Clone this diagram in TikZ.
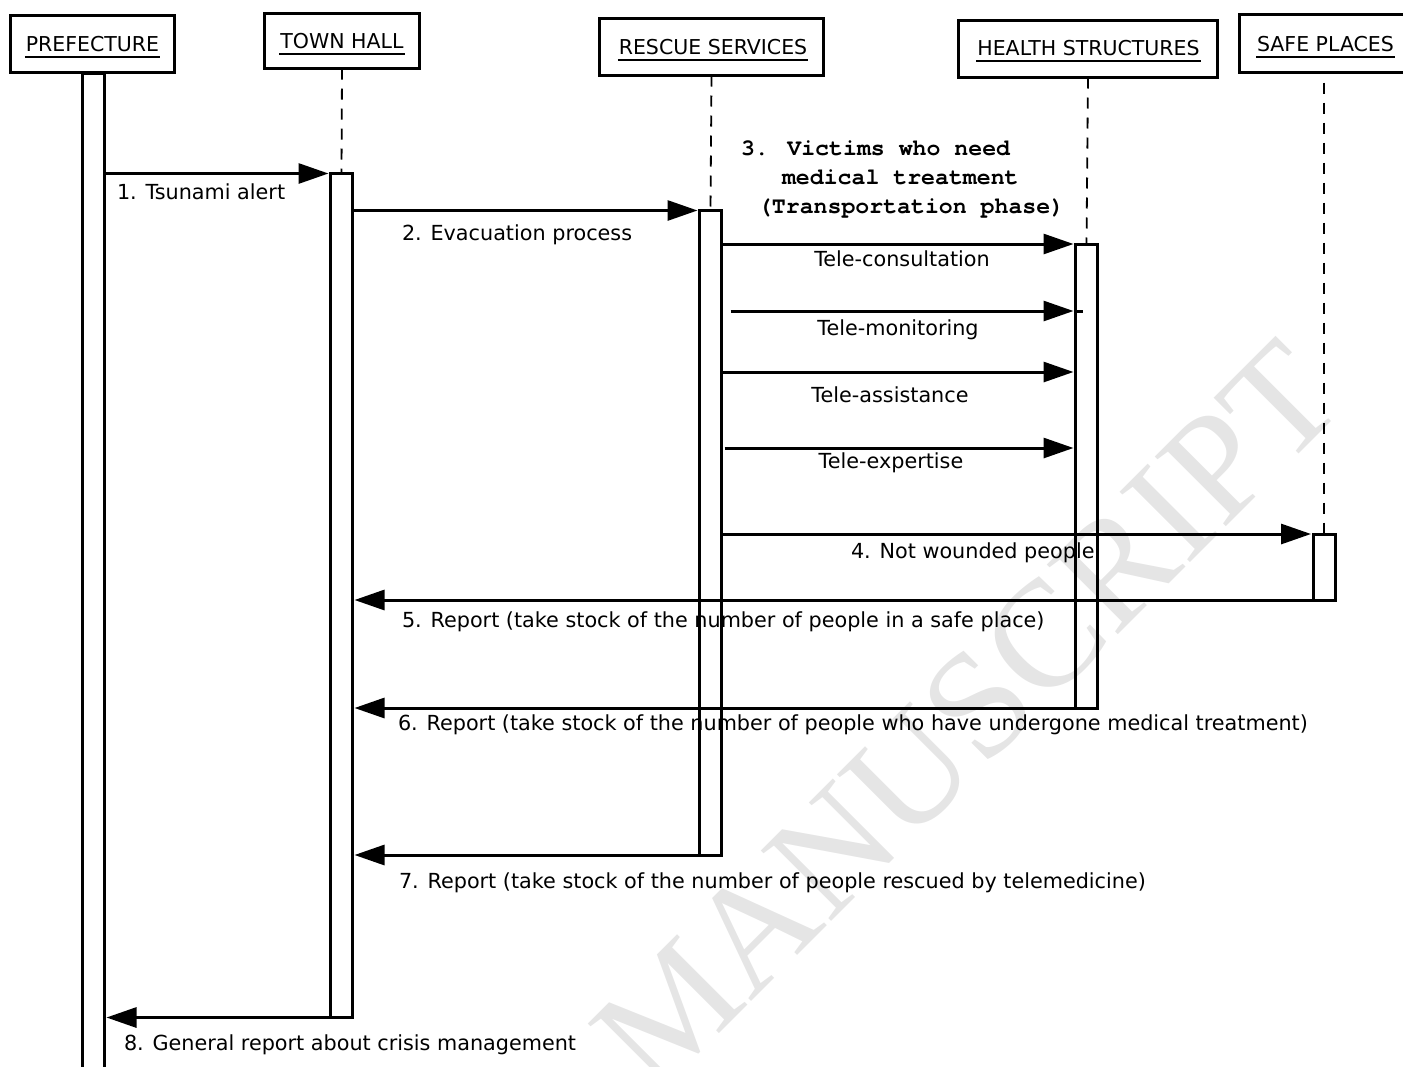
\documentclass[tikz,border=0pt]{standalone}
\usepackage{fontspec}
\setmainfont{DejaVu Sans}
\newfontfamily\codefont{texgyrecursor}[Extension=.otf, UprightFont=*-regular, BoldFont=*-bold]
\newfontfamily\markfont{Liberation Serif}
\usetikzlibrary{arrows.meta,calc}

\begin{document}
\begin{tikzpicture}[x=1pt,y=-1pt,
  every node/.style={inner sep=0pt, outer sep=0pt},
  headbox/.style={draw, line width=3pt, minimum height=57pt},
  title/.style={anchor=base, font=\fontsize{20.5}{24}\selectfont},
  lbl/.style={anchor=base west, font=\fontsize{20.75}{24}\selectfont},
  clbl/.style={anchor=base, font=\fontsize{20.75}{24}\selectfont},
  codelbl/.style={anchor=base west, font=\codefont\bfseries\fontsize{23.2}{28}\selectfont},
  actbar/.style={draw, line width=3pt, minimum width=22pt},
  lifeline/.style={line width=1.8pt, dash pattern=on 11pt off 9pt},
  msg/.style={line width=3pt, -{Triangle[length=30pt,width=20pt]}, shorten >=2pt},
  uline/.style={line width=1.3pt},
  wm/.style={text=black!10, font=\markfont\fontsize{152}{152}\selectfont},
]
\path[use as bounding box, clip] (0,0) rectangle (1403,1066);

% watermark
\node[wm, rotate=45, anchor=base east] (wmark) at (1348,405) {ACCEPTED MANUSCRIPT};

% participants
\node[headbox, minimum width=164pt] (pref)   at (92.5,44)  {};
\node[headbox, minimum width=155pt, minimum height=55pt] (town) at (342,41) {};
\node[headbox, minimum width=224pt] (resc)   at (711.5,47) {};
\node[headbox, minimum width=259pt] (hlth)   at (1088,49)  {};
\node[headbox, minimum width=172pt, minimum height=58pt] (safe) at (1325.5,43.5) {};

\node[title] (tpref) at (92.5,51)  {PREFECTURE};
\node[title] (ttown) at (342,48)   {TOWN HALL};
\node[title] (tresc) at (713,54)   {RESCUE SERVICES};
\node[title] (thlth) at (1088.5,55){HEALTH STRUCTURES};
\node[title] (tsafe) at (1325.5,51){SAFE PLACES};
\foreach \t in {tpref,ttown,tresc,thlth,tsafe}
  \draw[uline] ($(\t.base west)+(-1,6)$) -- ($(\t.base east)+(1,6)$);

% message labels
\node[lbl] (l1) at (117,199)  {1. Tsunami alert};
\node[lbl] (l2) at (402,240)  {2. Evacuation process};
\node[codelbl] (l3a) at (741,155) {3. Victims who need};
\node[codelbl] (l3b) at (782,184) {medical treatment};
\node[codelbl] (l3c) at (758,213) {(Transportation phase)};
\node[clbl] (ltc) at (902,266) {Tele-consultation};
\node[clbl] (ltm) at (898,335) {Tele-monitoring};
\node[clbl] (lta) at (890,402) {Tele-assistance};
\node[clbl] (lte) at (891,468) {Tele-expertise};
\node[lbl] (l4) at (851,558)  {4. Not wounded people};
\node[lbl] (l5) at (402,627)  {5. Report (take stock of the number of people in a safe place)};
\node[lbl] (l6) at (398,730)  {6. Report (take stock of the number of people who have undergone medical treatment)};
\node[lbl] (l7) at (399,888)  {7. Report (take stock of the number of people rescued by telemedicine)};
\node[lbl] (l8) at (124,1050) {8. General report about crisis management};

% activation bars
\node[actbar, minimum height=1027pt] (pbar) at (93.5,586.5) {};
\node[actbar, minimum height=844pt]  (tbar) at (341.5,595.5) {};
\node[actbar, minimum height=644.5pt] (rbar) at (710.5,532.75) {};
\node[actbar, minimum height=464pt]  (hbar) at (1086.5,476) {};
\node[actbar, minimum height=66pt]   (sbar) at (1324,567) {};

% lifelines
\draw[lifeline] (town.south) -- (tbar.north);
\draw[lifeline] (resc.south) -- (rbar.north);
\draw[lifeline] (hlth.south) -- (hbar.north);
\draw[lifeline] ($(safe.south)+(-1.5,10)$) -- (sbar.north);

% y levels of the intermediate messages
\coordinate (ytm) at (0,311);
\coordinate (yta) at (0,372);
\coordinate (yte) at (0,448);

% messages
\draw[msg] (pbar.east |- tbar.north) -- (tbar.north west);
\draw[msg] (tbar.east |- rbar.north) -- (rbar.north west);
\draw[msg] (rbar.east |- hbar.north) -- (hbar.north west);
\draw[msg] ($(rbar.east |- ytm)+(9,0)$) -- (hbar.west |- ytm);
\draw[line width=3pt] (hbar.west |- ytm) -- ++(7,0);
\draw[msg] (rbar.east |- yta) -- (hbar.west |- yta);
\draw[msg] ($(rbar.east |- yte)+(3,0)$) -- (hbar.west |- yte);
\draw[msg] (rbar.east |- sbar.north) -- (sbar.north west);
\draw[msg] (sbar.south west) -- (tbar.east |- sbar.south);
\draw[msg] (hbar.south west) -- (tbar.east |- hbar.south);
\draw[msg] (rbar.south west) -- (tbar.east |- rbar.south);
\draw[msg] (tbar.south west) -- (pbar.east |- tbar.south);
\end{tikzpicture}
\end{document}
